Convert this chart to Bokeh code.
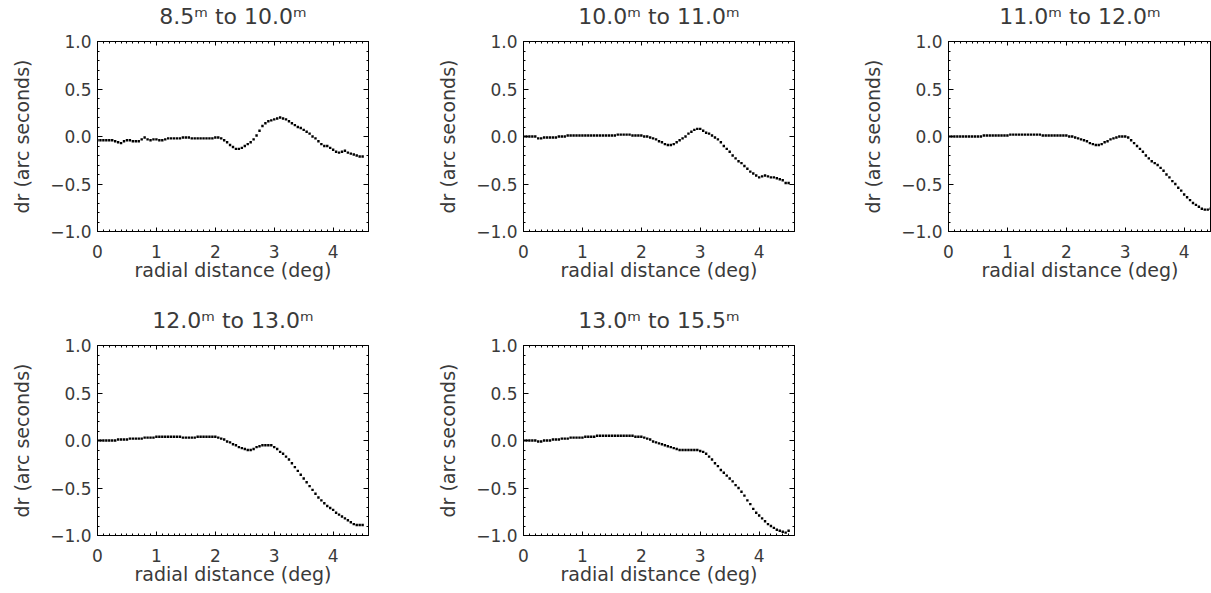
from bokeh.plotting import figure
from bokeh.models import Range1d, LinearAxis, FixedTicker, CustomLabelingPolicy
from bokeh.layouts import column, row
from bokeh.embed import file_html
from bokeh.resources import INLINE

titles = ["8.5ᵐ to 10.0ᵐ", "10.0ᵐ to 11.0ᵐ", "11.0ᵐ to 12.0ᵐ",
          "12.0ᵐ to 13.0ᵐ", "13.0ᵐ to 15.5ᵐ"]

radial = [0.00, 0.05, 0.10, 0.15, 0.20, 0.25, 0.30, 0.35, 0.40, 0.45,
          0.50, 0.55, 0.60, 0.65, 0.70, 0.75, 0.80, 0.85, 0.90, 0.95,
          1.00, 1.05, 1.10, 1.15, 1.20, 1.25, 1.30, 1.35, 1.40, 1.45,
          1.50, 1.55, 1.60, 1.65, 1.70, 1.75, 1.80, 1.85, 1.90, 1.95,
          2.00, 2.05, 2.10, 2.15, 2.20, 2.25, 2.30, 2.35, 2.40, 2.45,
          2.50, 2.55, 2.60, 2.65, 2.70, 2.75, 2.80, 2.85, 2.90, 2.95,
          3.00, 3.05, 3.10, 3.15, 3.20, 3.25, 3.30, 3.35, 3.40, 3.45,
          3.50, 3.55, 3.60, 3.65, 3.70, 3.75, 3.80, 3.85, 3.90, 3.95,
          4.00, 4.05, 4.10, 4.15, 4.20, 4.25, 4.30, 4.35, 4.40, 4.45, 4.50]

dr_85_100 = [-0.04, -0.04, -0.04, -0.04, -0.04, -0.04, -0.05, -0.06, -0.07, -0.05,
             -0.04, -0.04, -0.05, -0.05, -0.05, -0.03, -0.01, -0.03, -0.04, -0.03,
             -0.03, -0.04, -0.04, -0.03, -0.02, -0.02, -0.02, -0.02, -0.02, -0.01,
             -0.01, -0.01, -0.02, -0.02, -0.02, -0.02, -0.02, -0.02, -0.02, -0.02,
             -0.01, -0.01, -0.02, -0.04, -0.06, -0.09, -0.11, -0.13, -0.13, -0.12,
             -0.10, -0.08, -0.06, -0.03, 0.01, 0.06, 0.11, 0.14, 0.16, 0.17,
             0.18, 0.19, 0.20, 0.19, 0.18, 0.16, 0.14, 0.12, 0.10, 0.09,
             0.07, 0.05, 0.03, 0.00, -0.02, -0.05, -0.08, -0.10, -0.10, -0.12,
             -0.14, -0.16, -0.17, -0.16, -0.15, -0.17, -0.18, -0.19, -0.20, -0.21, -0.21]

dr_100_110 = [0.00, 0.00, 0.00, 0.00, 0.00, -0.02, -0.02, -0.01, -0.01, -0.01,
              -0.01, -0.01, 0.00, 0.00, 0.00, 0.01, 0.01, 0.01, 0.01, 0.01,
              0.01, 0.01, 0.01, 0.01, 0.01, 0.01, 0.01, 0.01, 0.01, 0.01,
              0.01, 0.01, 0.02, 0.02, 0.02, 0.02, 0.02, 0.01, 0.01, 0.01,
              0.01, 0.00, 0.00, -0.01, -0.02, -0.03, -0.05, -0.06, -0.08, -0.09,
              -0.09, -0.08, -0.06, -0.04, -0.02, 0.00, 0.03, 0.05, 0.07, 0.08,
              0.08, 0.06, 0.04, 0.03, 0.01, -0.01, -0.03, -0.06, -0.10, -0.13,
              -0.16, -0.20, -0.23, -0.26, -0.28, -0.31, -0.34, -0.37, -0.39, -0.41,
              -0.43, -0.42, -0.41, -0.42, -0.43, -0.43, -0.44, -0.45, -0.46, -0.49, -0.49]

dr_110_120 = [0.00, 0.00, 0.00, 0.00, 0.00, 0.00, 0.00, 0.00, 0.00, 0.00,
              0.00, 0.00, 0.01, 0.01, 0.01, 0.01, 0.01, 0.01, 0.01, 0.01,
              0.01, 0.02, 0.02, 0.02, 0.02, 0.02, 0.02, 0.02, 0.02, 0.02,
              0.02, 0.02, 0.01, 0.01, 0.01, 0.01, 0.01, 0.01, 0.01, 0.01,
              0.01, 0.00, 0.00, -0.01, -0.02, -0.03, -0.04, -0.05, -0.07, -0.08,
              -0.09, -0.09, -0.08, -0.06, -0.05, -0.03, -0.02, -0.01, 0.00, 0.00,
              0.00, -0.01, -0.04, -0.07, -0.10, -0.13, -0.16, -0.20, -0.23, -0.26,
              -0.28, -0.30, -0.33, -0.36, -0.40, -0.43, -0.47, -0.50, -0.54, -0.57,
              -0.61, -0.64, -0.67, -0.70, -0.72, -0.74, -0.76, -0.77, -0.77, -0.76, -0.75]

dr_120_130 = [0.00, 0.00, 0.00, 0.00, 0.00, 0.00, 0.00, 0.01, 0.01, 0.01,
              0.01, 0.02, 0.02, 0.02, 0.02, 0.02, 0.03, 0.03, 0.03, 0.03,
              0.04, 0.04, 0.04, 0.04, 0.04, 0.04, 0.04, 0.04, 0.04, 0.03,
              0.03, 0.03, 0.03, 0.03, 0.04, 0.04, 0.04, 0.04, 0.04, 0.04,
              0.04, 0.03, 0.02, 0.01, -0.01, -0.02, -0.04, -0.05, -0.07, -0.08,
              -0.09, -0.10, -0.10, -0.09, -0.07, -0.06, -0.05, -0.05, -0.05, -0.05,
              -0.07, -0.09, -0.12, -0.14, -0.17, -0.20, -0.24, -0.28, -0.32, -0.36,
              -0.40, -0.44, -0.48, -0.52, -0.56, -0.60, -0.63, -0.66, -0.69, -0.71,
              -0.73, -0.76, -0.78, -0.80, -0.82, -0.84, -0.86, -0.88, -0.89, -0.89, -0.89]

dr_130_155 = [0.00, 0.00, 0.00, 0.00, 0.00, -0.01, -0.01, 0.00, 0.00, 0.00,
              0.01, 0.01, 0.01, 0.02, 0.02, 0.02, 0.03, 0.03, 0.03, 0.03,
              0.03, 0.04, 0.04, 0.04, 0.04, 0.05, 0.05, 0.05, 0.05, 0.05,
              0.05, 0.05, 0.05, 0.05, 0.05, 0.05, 0.05, 0.05, 0.04, 0.04,
              0.04, 0.03, 0.02, 0.01, -0.01, -0.02, -0.03, -0.04, -0.05, -0.06,
              -0.07, -0.08, -0.09, -0.10, -0.10, -0.10, -0.10, -0.10, -0.10, -0.10,
              -0.11, -0.12, -0.14, -0.17, -0.20, -0.24, -0.27, -0.31, -0.34, -0.37,
              -0.40, -0.43, -0.47, -0.50, -0.54, -0.58, -0.63, -0.67, -0.72, -0.76,
              -0.79, -0.82, -0.85, -0.88, -0.90, -0.92, -0.94, -0.95, -0.96, -0.97, -0.95]

x_ticks = [0, 1, 2, 3, 4]
x_minor = [0.1, 0.2, 0.3, 0.4, 0.5, 0.6, 0.7, 0.8, 0.9, 1.1, 1.2, 1.3, 1.4, 1.5, 1.6, 1.7, 1.8, 1.9,
           2.1, 2.2, 2.3, 2.4, 2.5, 2.6, 2.7, 2.8, 2.9, 3.1, 3.2, 3.3, 3.4, 3.5, 3.6, 3.7, 3.8, 3.9,
           4.1, 4.2, 4.3, 4.4, 4.5]
y_ticks = [-1.0, -0.5, 0.0, 0.5, 1.0]
y_labels = {-1.0: "\u22121.0", -0.5: "\u22120.5", 0.0: "0.0", 0.5: "0.5", 1.0: "1.0"}
y_minor = [-0.9, -0.8, -0.7, -0.6, -0.4, -0.3, -0.2, -0.1, 0.1, 0.2, 0.3, 0.4, 0.6, 0.7, 0.8, 0.9]

FONT = "DejaVu Sans"
TXT = "#3a3a3a"

HIDE_LABELS = """
const n = indices.size;
for (let i = 0; i < n; i++) { indices.unset(i); }
return indices;
"""


def style_axis(ax, ticks, minor, tick_len, labels=True):
    ax.ticker = FixedTicker(ticks=ticks, minor_ticks=minor)
    ax.axis_line_color = "black"
    ax.major_tick_line_color = "black"
    ax.minor_tick_line_color = "black"
    ax.major_tick_in = tick_len
    ax.major_tick_out = 0
    ax.minor_tick_in = max(1, tick_len // 2)
    ax.minor_tick_out = 0
    if labels:
        ax.major_label_text_font = FONT
        ax.major_label_text_font_size = "17px"
        ax.major_label_text_color = TXT
        ax.axis_label_text_font = FONT
        ax.axis_label_text_font_size = "19px"
        ax.axis_label_text_color = TXT
        ax.axis_label_text_font_style = "normal"
    else:
        ax.major_label_policy = CustomLabelingPolicy(code=HIDE_LABELS)
        ax.major_label_standoff = 0
        ax.axis_label = None


def make_panel(title, ys, width, height, b_left, b_right, b_top, b_bottom, x_end, right_axis=True):
    p = figure(width=width, height=height, x_range=Range1d(0, x_end), y_range=Range1d(-1.0, 1.0),
               output_backend="svg", toolbar_location=None, title=title,
               min_border_left=b_left, min_border_right=b_right,
               min_border_top=b_top, min_border_bottom=b_bottom)
    p.grid.visible = False
    p.outline_line_color = "black"
    p.background_fill_color = "white"
    p.border_fill_color = "white"
    p.title.align = "center"
    p.title.text_font = FONT
    p.title.text_font_size = "22px"
    p.title.text_font_style = "normal"
    p.title.text_color = TXT
    p.title.standoff = 3

    xa = p.xaxis[0]
    style_axis(xa, x_ticks, x_minor, 4)
    xa.axis_label = "radial distance (deg)"
    xa.major_label_standoff = 13
    xa.axis_label_standoff = -2

    ya = p.yaxis[0]
    style_axis(ya, y_ticks, y_minor, 5)
    ya.axis_label = "dr (arc seconds)"
    ya.major_label_overrides = y_labels
    ya.major_label_standoff = 6
    ya.axis_label_standoff = 14

    top = LinearAxis()
    style_axis(top, x_ticks, x_minor, 4, labels=False)
    p.add_layout(top, "above")
    if right_axis:
        rgt = LinearAxis()
        style_axis(rgt, y_ticks, y_minor, 5, labels=False)
        p.add_layout(rgt, "right")

    p.scatter(x=radial, y=ys, marker="square", size=2.4, fill_color="black", line_color=None)
    return p


BL = 97
FW = 271
FH = 190
BT = 41
H1 = 304
H2 = 289
W1 = 426
W2 = 425
W3 = 1211 - W1 - W2
PX_PER_UNIT = FW / 4.6

p1 = make_panel(titles[0], dr_85_100, W1, H1, BL, W1 - BL - FW, BT, H1 - BT - FH, 4.6)
p2 = make_panel(titles[1], dr_100_110, W2, H1, BL, W2 - BL - FW, BT, H1 - BT - FH, 4.6)
p3 = make_panel(titles[2], dr_110_120, W3, H1, BL, 0, BT, H1 - BT - FH,
                (W3 - BL) / PX_PER_UNIT, right_axis=False)
p4 = make_panel(titles[3], dr_120_130, W1, H2, BL, W1 - BL - FW, BT, H2 - BT - FH, 4.6)
p5 = make_panel(titles[4], dr_130_155, W2, H2, BL, W2 - BL - FW, BT, H2 - BT - FH, 4.6)

layout = column(row(p1, p2, p3), row(p4, p5))

open("out.html", "w").write(file_html(layout, INLINE))
